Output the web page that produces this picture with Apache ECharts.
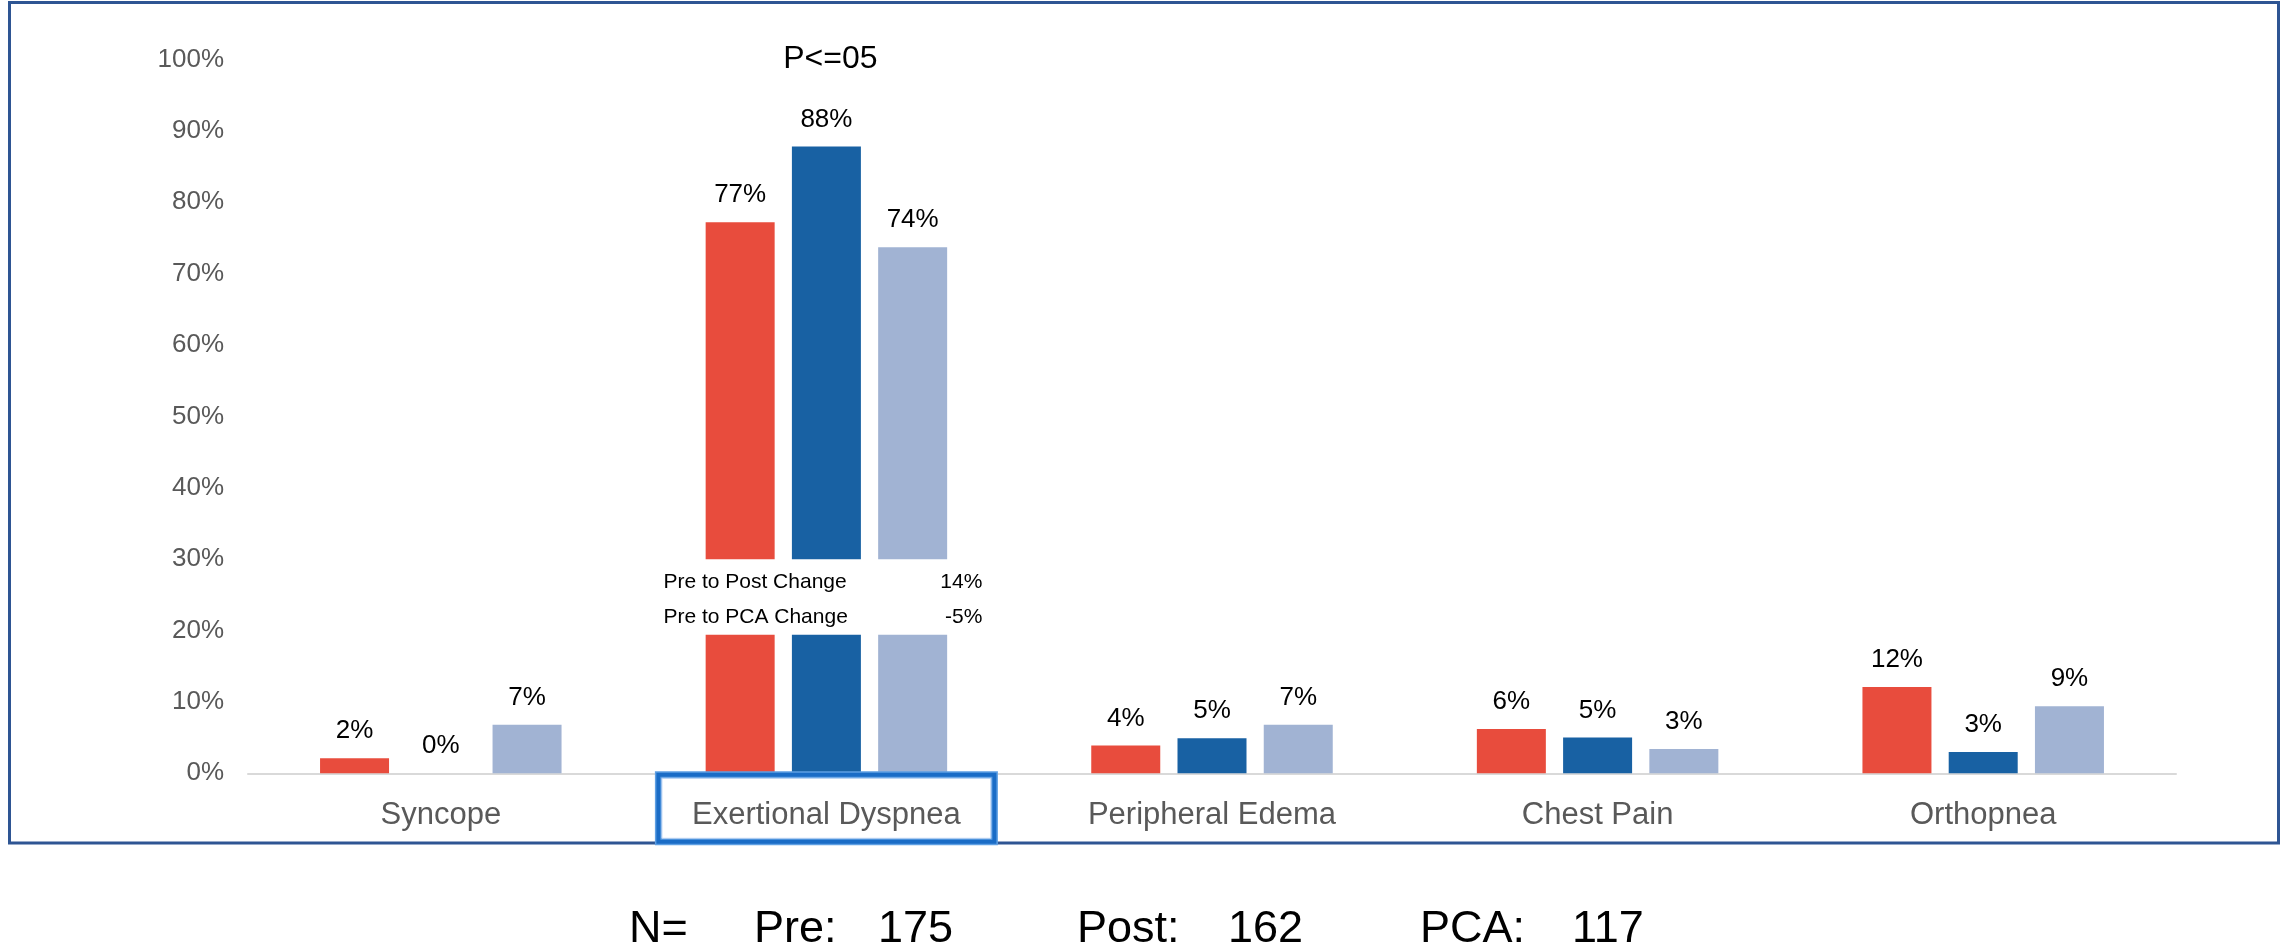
<!DOCTYPE html>
<html>
<head>
<meta charset="utf-8">
<title>Symptoms: Pre, Post and PCA</title>
<script src="https://cdn.jsdelivr.net/npm/echarts@6/dist/echarts.min.js"></script>
<style>
  html, body { margin: 0; padding: 0; background: #ffffff; }
  #chart { width: 2290px; height: 951px; }
</style>
</head>
<body>
<div id="chart"></div>
<script>
// Symptom categories along the x axis
const categories = ['Syncope', 'Exertional Dyspnea', 'Peripheral Edema', 'Chest Pain', 'Orthopnea'];

// Share of patients reporting each symptom (%)
const preValues  = [2.1, 77.2, 3.9, 6.2, 12.1];
const postValues = [0,   87.8, 4.9, 5.0, 3.0];
const pcaValues  = [6.8, 73.7, 6.8, 3.4, 9.4];

// Group names and sample sizes
const groupNames  = ['Pre', 'Post', 'PCA'];
const sampleSizes = [175, 162, 117];

// Y axis range and step (%)
const yMin = 0, yMax = 100, yStep = 10;

// Annotation for the highlighted symptom
const highlightIndex   = 1;
const significanceNote = 'P<=05';
const changeNames      = ['Pre to Post Change', 'Pre to PCA Change'];

const FONT = '"Liberation Sans", Arial, Helvetica, sans-serif';
const colors = ['#E84C3D', '#1861A3', '#A1B3D3'];

const chart = echarts.init(document.getElementById('chart'), null, { renderer: 'canvas' });

function barSeries(name, data, color) {
  return {
    name: name,
    type: 'bar',
    data: data,
    barWidth: 69,
    barGap: '25%',
    itemStyle: { color: color },
    label: {
      show: true,
      position: 'top',
      distance: 14,
      color: '#000000',
      fontFamily: FONT,
      fontSize: 26,
      formatter: p => Math.round(p.value) + '%'
    }
  };
}

chart.setOption({
  animation: false,
  backgroundColor: '#ffffff',
  grid: { left: 248, right: 114, top: 59.5, bottom: 177.7, containLabel: false },
  xAxis: {
    type: 'category',
    data: categories,
    axisLine: { show: true, lineStyle: { color: '#D9D9D9', width: 2 } },
    axisTick: { show: false },
    axisLabel: { color: '#595959', fontFamily: FONT, fontSize: 31, margin: 27 }
  },
  yAxis: {
    type: 'value',
    min: yMin,
    max: yMax,
    interval: yStep,
    axisLine: { show: false },
    axisTick: { show: false },
    splitLine: { show: false },
    axisLabel: { color: '#595959', fontFamily: FONT, fontSize: 26, margin: 24, formatter: '{value}%' }
  },
  series: [
    barSeries(groupNames[0], preValues, colors[0]),
    barSeries(groupNames[1], postValues, colors[1]),
    barSeries(groupNames[2], pcaValues, colors[2])
  ]
});

// Overlays placed from the axis scales
const cx = chart.convertToPixel({ xAxisIndex: 0 }, highlightIndex);
const yPix = v => chart.convertToPixel({ yAxisIndex: 0 }, v);
const axisY = yPix(0);

// Relative change of the highlighted symptom versus the Pre group
const pre = preValues[highlightIndex];
const changeValues = [
  Math.round((postValues[highlightIndex] - pre) / pre * 100),
  Math.round((pcaValues[highlightIndex] - pre) / pre * 100)
];

// White band interrupting the bars where the change table sits
const bandTop = yPix(30.0), bandBottom = yPix(19.4);

const graphics = [
  // Outer frame
  {
    type: 'rect', z: 50,
    shape: { x: 9.5, y: 2.5, width: 2269, height: 840.5 },
    style: { fill: 'none', stroke: '#2E5593', lineWidth: 3 }
  },
  // Band across the highlighted bars
  {
    type: 'rect', z: 100,
    shape: { x: cx - 175, y: bandTop, width: 350, height: bandBottom - bandTop },
    style: { fill: '#ffffff' }
  },
  // Highlight box round the category label
  {
    type: 'rect', z: 100,
    shape: { x: cx - 168, y: axisY + 1.5, width: 336, height: 67 },
    style: { fill: 'none', stroke: '#5E9FE3', lineWidth: 7 }
  },
  {
    type: 'rect', z: 101,
    shape: { x: cx - 168, y: axisY + 1.5, width: 336, height: 67 },
    style: { fill: 'none', stroke: '#1A6CC6', lineWidth: 4 }
  },
  {
    type: 'rect', z: 101,
    shape: { x: cx - 164.5, y: axisY + 5, width: 329, height: 60 },
    style: { fill: 'none', stroke: '#B8D2F2', lineWidth: 1 }
  },
  // Significance note
  {
    type: 'text', z: 102,
    x: cx + 4, y: 59,
    style: { text: significanceNote, fill: '#000000', font: '32px ' + FONT, align: 'center', verticalAlign: 'middle' }
  }
];

// Change table rows
const rowY = [yPix(26.8), yPix(21.8)];
changeNames.forEach((name, i) => {
  graphics.push({
    type: 'text', z: 102,
    x: cx - 163, y: rowY[i],
    style: { text: name, fill: '#000000', font: '21px ' + FONT, align: 'left', verticalAlign: 'middle' }
  });
  graphics.push({
    type: 'text', z: 102,
    x: cx + 156, y: rowY[i],
    style: { text: changeValues[i] + '%', fill: '#000000', font: '21px ' + FONT, align: 'right', verticalAlign: 'middle' }
  });
});

// Sample size line under the chart
const nLine = [
  { text: 'N=', x: 629 },
  { text: groupNames[0] + ':', x: 754 },
  { text: String(sampleSizes[0]), x: 878 },
  { text: groupNames[1] + ':', x: 1077 },
  { text: String(sampleSizes[1]), x: 1228 },
  { text: groupNames[2] + ':', x: 1420 },
  { text: String(sampleSizes[2]), x: 1572 }
];
nLine.forEach(t => {
  graphics.push({
    type: 'text', z: 102,
    x: t.x, y: 930,
    style: { text: t.text, fill: '#000000', font: '45px ' + FONT, align: 'left', verticalAlign: 'middle' }
  });
});

chart.setOption({ graphic: { elements: graphics } });
</script>
</body>
</html>
